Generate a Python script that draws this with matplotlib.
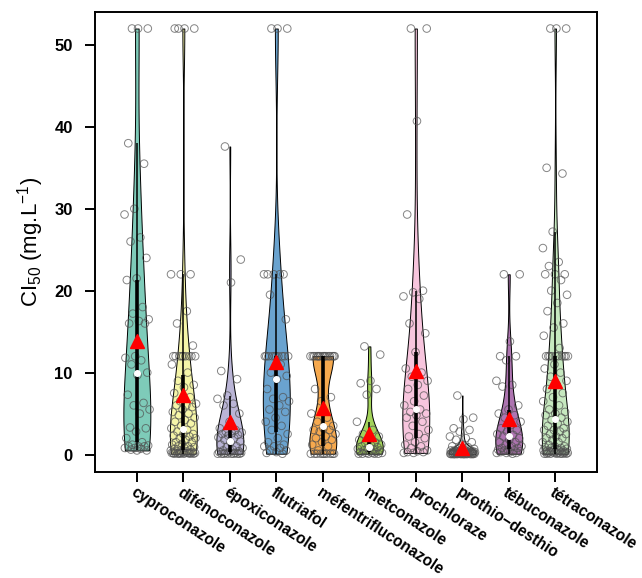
import numpy as np
import matplotlib
matplotlib.use("Agg")
import matplotlib.pyplot as plt

plt.rcParams['font.family'] = ['Liberation Sans', 'DejaVu Sans']
plt.rcParams['mathtext.fontset'] = 'custom'
plt.rcParams['mathtext.rm'] = 'Liberation Sans'
plt.rcParams['mathtext.it'] = 'Liberation Sans:italic'

categories = ["cyproconazole", "difénoconazole", "époxiconazole", "flutriafol",
              "méfentrifluconazole", "metconazole", "prochloraze", "prothio\u2212desthio",
              "tébuconazole", "tétraconazole"]

cyproconazole = [52, 52, 52, 38, 35.5, 30, 29.3, 26.5, 26, 24, 21.5, 21.3, 18, 17.2, 16.5,
                 16.3, 16, 16, 12, 11.8, 11.5, 11, 10, 9.7, 7.3, 6.3, 6, 5.5, 5, 3.3, 3.2,
                 2.8, 2.0, 1.5, 1.2, 1.1, 1, 1, 1, 0.8, 0.8, 0.7, 0.6, 0.5, 0.5]
difenoconazole = [52, 52, 52, 52, 22, 22, 22, 17.5, 16, 13.3] + [12] * 9 + \
    [11, 10, 9, 8.5, 8.2, 7.5, 7, 6.5, 6.2, 6, 6, 5.8, 5.5, 5.2, 5, 4.8, 4.5, 4.2, 4,
     3.8, 3.5, 3.2, 3, 2.8, 2.5, 2.5, 2.3, 2.2, 2, 2, 1.8, 1.5, 1.5, 1.3, 1.2, 1, 1,
     0.9, 0.8, 0.7, 0.6, 0.5, 0.5, 0.4, 0.4, 0.3, 0.3] + [0.2] * 10 + [0.1] * 6
epoxiconazole = [37.6, 23.8, 21, 10.2, 9.2, 7.2, 6.8, 6.2, 6, 5, 4, 3.2, 3, 2.8, 2.7, 2.6,
                 2.5, 2.4, 2.3, 2.1, 2, 1.8, 1.6, 1.5, 1.2, 1, 0.9, 0.8, 0.6, 0.5, 0.4,
                 0.3, 0.3, 0.2, 0.2, 0.2] + [0.1] * 8
flutriafol = [52, 52, 52, 22, 22, 22, 22, 22, 19.5, 16.5] + [12] * 10 + \
    [11, 10, 9.6, 9.2, 8, 7, 6.8, 6.5, 6, 5.5, 5.2, 4.5, 4, 3.5, 3, 2.5, 2, 1.5, 1.2, 1,
     1, 0.8, 0.5, 0.5, 0.3, 0.2, 0.1]
mefentrifluconazole = [12] * 16 + [8, 7, 6.5, 5, 4.5, 4, 3.5, 3.2, 3, 3, 2.8, 2.5, 2.2, 2,
                                   1.8, 1.5, 1.2, 1, 0.5] + [0.1] * 10
metconazole = [13.2, 12.2, 9, 8.7, 8, 7.3, 4, 3, 2.5, 2.2, 2, 1.8, 1.5, 1.4, 1.2, 1.1, 1,
               0.9, 0.8, 0.7, 0.6, 0.5, 0.5, 0.4, 0.3, 0.3, 0.2, 0.2, 0.2,
               0.1, 0.1, 0.1, 0.1, 0.1]
prochloraze = [52, 52, 40.7, 29.3, 20, 19.8, 19.3, 19, 16, 14.8, 12.5, 10.5, 10, 9.5, 9,
               8.5, 8, 7.2, 6.5, 6, 5.5, 5.2, 5, 4.8, 4.5, 4, 3.5, 3, 2.5, 2.2, 2, 1.5,
               1.2, 1, 0.8, 0.5, 0.4, 0.3, 0.3, 0.2, 0.2]
prothio_desthio = [7.2, 4.5, 4.3, 3.2, 3, 2.8, 2.2, 2, 1.8, 1.5, 1.2, 1.0, 0.9, 0.8, 0.7,
                   0.6] + [0.5] * 4 + [0.4] * 5 + [0.3] * 6 + [0.2] * 8 + [0.1] * 10 + [0.05] * 10
tebuconazole = [22, 22, 13.8, 12, 12, 11.5, 9, 8.5, 8.3, 6, 5.5, 5, 4.8, 4.5, 4, 3.6, 3.2,
                3, 2.8, 2.5, 2.4, 2.2, 2, 1.8, 1.5, 1.5, 1.2, 1, 1, 0.8, 0.8, 0.6, 0.6,
                0.5, 0.5, 0.4, 0.3, 0.3, 0.2, 0.2, 0.2, 0.1]
tetraconazole = [52, 52, 52, 35, 34.3, 27.2, 25.2, 23.5, 23, 22, 22, 22, 21.3, 20, 19.5,
                 18.5, 17.5, 16, 15.5, 14.5, 13] + [12] * 10 + \
    [11, 10.5, 10, 9.5, 9, 8.5, 8, 7.5, 7, 6.5, 6, 5.5, 5.2, 5, 4.8, 4.5, 4.2, 4, 3.8,
     3.5, 3.2, 3, 3, 2.8, 2.5, 2.5, 2.2, 2, 2, 1.8, 1.5, 1.5, 1.2, 1, 1, 0.9, 0.8, 0.8,
     0.7, 0.6, 0.5, 0.5, 0.5, 0.5, 0.5, 0.4, 0.3, 0.3, 0.3, 0.3, 0.3, 0.2, 0.2, 0.2,
     0.2, 0.2, 0.1, 0.1, 0.1, 0.1, 0.1, 0.1, 0.1]

series = [cyproconazole, difenoconazole, epoxiconazole, flutriafol, mefentrifluconazole,
          metconazole, prochloraze, prothio_desthio, tebuconazole, tetraconazole]

colors = ["#7ecbb9", "#f5f5a8", "#bab5d6", "#6aa3cf", "#f6a94e",
          "#a3d35a", "#f7c5dd", "#cfcfcf", "#ad74b0", "#c6e8bf"]

yticks = [0, 10, 20, 30, 40, 50]

fig = plt.figure(figsize=(6.42, 5.78), dpi=100)
ax = fig.add_axes([0.148, 0.183, 0.782, 0.796])

positions = np.arange(1, len(categories) + 1)
vp = ax.violinplot(series, positions=positions, widths=0.58, showextrema=False)
for body, c in zip(vp['bodies'], colors):
    body.set_facecolor(c)
    body.set_edgecolor('black')
    body.set_linewidth(0.7)
    body.set_alpha(1)
    body.set_zorder(1)

golden = 0.6180339887
for pos, vals in zip(positions, series):
    vals = np.asarray(vals, dtype=float)
    n = len(vals)
    jit = ((np.arange(n) * golden + 0.31) % 1.0 - 0.5) * 0.55
    ax.scatter(pos + jit, vals, s=30, facecolors='none', edgecolors='#505050',
               linewidths=0.7, alpha=0.7, zorder=2)
    q1, med, q3 = np.percentile(vals, [25, 50, 75])
    iqr = q3 - q1
    lo = vals[vals >= q1 - 1.5 * iqr].min()
    hi = vals[vals <= q3 + 1.5 * iqr].max()
    ax.plot([pos, pos], [lo, hi], color='black', lw=1.1, zorder=3, solid_capstyle='butt')
    ax.plot([pos, pos], [q1, q3], color='black', lw=2.6, zorder=3, solid_capstyle='butt')
    ax.plot(pos, med, 'o', color='white', ms=4, zorder=4)
    ax.plot(pos, vals.mean(), '^', color='red', ms=10.5, mec='red', zorder=5)

ax.set_xlim(0.1, 10.9)
ax.set_ylim(-2.16, 54)
ax.set_yticks(yticks)
ax.set_yticklabels([str(t) for t in yticks], fontsize=12, fontweight='bold')
ax.set_xticks(positions)
ax.set_xticklabels(categories, rotation=-33, ha='left', va='top', rotation_mode='anchor',
                   fontsize=11.2, fontweight='bold')
ax.tick_params(axis='both', length=7, width=1.4, direction='out')
ax.tick_params(axis='y', pad=9)
ax.tick_params(axis='x', pad=2)
for s in ax.spines.values():
    s.set_linewidth(1.4)
ax.set_ylabel("CI$_{50}$ (mg.L$^{-1}$)", fontsize=16, labelpad=6)

fig.savefig("out.png", dpi=100)
